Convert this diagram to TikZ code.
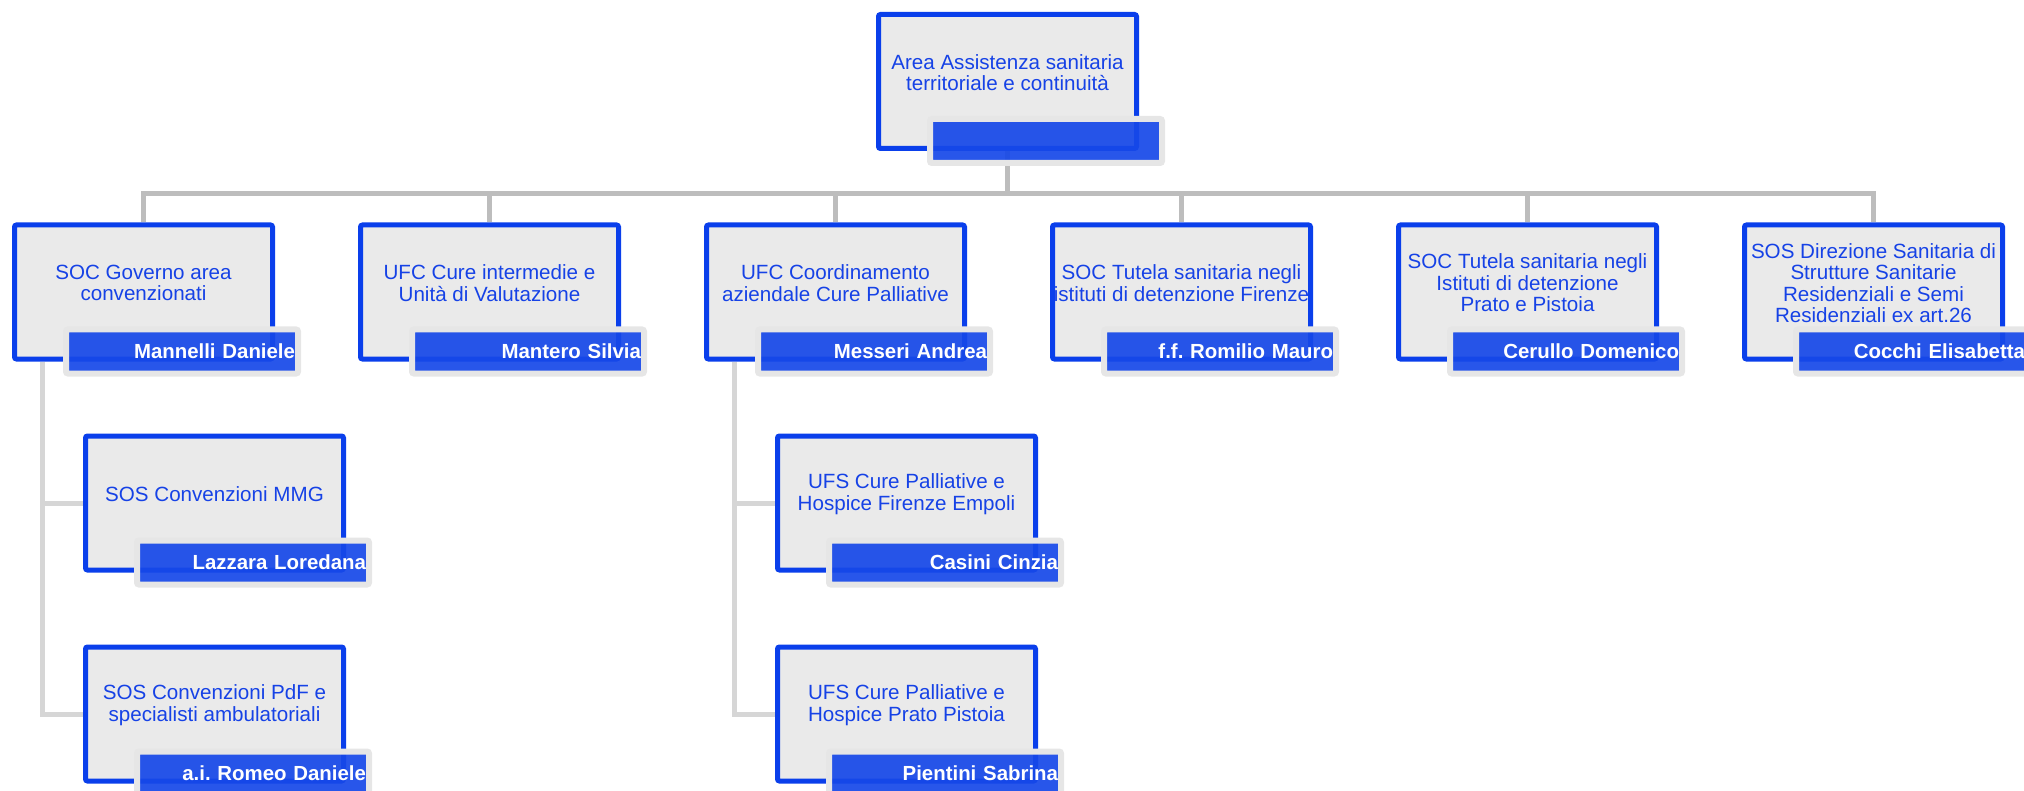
\documentclass[tikz,border=0pt]{standalone}
\usepackage{fontspec}
\setmainfont{Liberation Sans}
\usepackage{tikz}
\usetikzlibrary{positioning,backgrounds}
\frenchspacing
\definecolor{clrBorder}{RGB}{10,63,235}
\definecolor{clrFill}{RGB}{234,234,234}
\definecolor{clrBar}{RGB}{22,72,232}
\definecolor{clrFrame}{RGB}{230,230,230}
\definecolor{clrText}{RGB}{22,66,230}
\definecolor{clrLink}{RGB}{189,189,189}
\definecolor{clrSub}{RGB}{214,214,214}
\tikzstyle{box_unit}=[draw=clrBorder, line width=2.5pt, fill=clrFill, rounded corners=1pt,
minimum width=129pt, minimum height=67pt, inner sep=0pt]
\tikzstyle{box_text}=[draw=none, fill=none, align=center, text=clrText, inner sep=0pt,
font=\fontsize{10.3}{10.7}\selectfont, yshift=4.5pt]
\tikzstyle{name_bar}=[draw=clrFrame, line width=3pt, fill=clrBar, fill opacity=0.92, text opacity=1,
rounded corners=1pt, text width=113pt, minimum height=22pt, inner xsep=1.5pt, inner ysep=0pt,
align=right, text=white, font=\fontsize{10.2}{12}\selectfont\bfseries, anchor=north east]
\tikzstyle{link_top}=[draw=clrLink, line width=2.5pt]
\tikzstyle{link_sub}=[draw=clrSub, line width=2.5pt]

\begin{document}
\begin{tikzpicture}[x=0.5pt, y=-0.5pt]
	\useasboundingbox (0,0) rectangle (2024,791);

	% direzione di area
	\node[box_unit, label={[box_text]center:{Area Assistenza sanitaria\\territoriale e continuità}}] (A) at (1007.5,81.5) {};
	\node[name_bar] (nA) at ([xshift=13pt,yshift=17.5pt]A.south east) {};

	% primo livello
	\node[box_unit, label={[box_text]center:{SOC Governo area\\convenzionati}}] (B) at (143.5,292) {};
	\node[name_bar] (nB) at ([xshift=13pt,yshift=17.5pt]B.south east) {Mannelli Daniele};

	\node[box_unit, right=41.5pt of B, label={[box_text]center:{UFC Cure intermedie e\\Unità di Valutazione}}] (C) {};
	\node[name_bar] (nC) at ([xshift=13pt,yshift=17.5pt]C.south east) {Mantero Silvia};

	\node[box_unit, right=41.5pt of C, label={[box_text]center:{UFC Coordinamento\\aziendale Cure Palliative}}] (D) {};
	\node[name_bar] (nD) at ([xshift=13pt,yshift=17.5pt]D.south east) {Messeri Andrea};

	\node[box_unit, right=41.5pt of D, label={[box_text]center:{SOC Tutela sanitaria negli\\istituti di detenzione Firenze}}] (E) {};
	\node[name_bar] (nE) at ([xshift=13pt,yshift=17.5pt]E.south east) {f.f. Romilio Mauro};

	\node[box_unit, right=41.5pt of E, label={[box_text]center:{SOC Tutela sanitaria negli\\Istituti di detenzione\\Prato e Pistoia}}] (F) {};
	\node[name_bar] (nF) at ([xshift=13pt,yshift=17.5pt]F.south east) {Cerullo Domenico};

	\node[box_unit, right=41.5pt of F, label={[box_text]center:{SOS Direzione Sanitaria di\\Strutture Sanitarie\\Residenziali e Semi\\Residenziali ex art.26}}] (G) {};
	\node[name_bar] (nG) at ([xshift=13pt,yshift=17.5pt]G.south east) {Cocchi Elisabetta};

	% secondo livello
	\node[box_unit, below=36pt of B, xshift=35.5pt, label={[box_text]center:{SOS Convenzioni MMG}}] (H) {};
	\node[name_bar] (nH) at ([xshift=13pt,yshift=17.5pt]H.south east) {Lazzara Loredana};

	\node[box_unit, below=36pt of H, label={[box_text]center:{SOS Convenzioni PdF e\\specialisti ambulatoriali}}] (I) {};
	\node[name_bar] (nI) at ([xshift=13pt,yshift=17.5pt]I.south east) {a.i. Romeo Daniele};

	\node[box_unit, below=36pt of D, xshift=35.5pt, label={[box_text]center:{UFS Cure Palliative e\\Hospice Firenze Empoli}}] (J) {};
	\node[name_bar] (nJ) at ([xshift=13pt,yshift=17.5pt]J.south east) {Casini Cinzia};

	\node[box_unit, below=36pt of J, label={[box_text]center:{UFS Cure Palliative e\\Hospice Prato Pistoia}}] (K) {};
	\node[name_bar] (nK) at ([xshift=13pt,yshift=17.5pt]K.south east) {Pientini Sabrina};

	% collegamenti
	\begin{scope}[on background layer]
		\draw[link_top] (A.south) -- ++(0,-21.5pt) coordinate (bus);
		\draw[link_top] (B.north) |- (bus) -| (G.north);
		\draw[link_top] (C.north) -- ++(0,14.5pt) (D.north) -- ++(0,14.5pt)
			(E.north) -- ++(0,14.5pt) (F.north) -- ++(0,14.5pt);
		\draw[link_sub] ([xshift=15pt]B.south west) |- (H.west);
		\draw[link_sub] ([xshift=15pt]B.south west) |- (I.west);
		\draw[link_sub] ([xshift=15pt]D.south west) |- (J.west);
		\draw[link_sub] ([xshift=15pt]D.south west) |- (K.west);
	\end{scope}

\end{tikzpicture}
\end{document}
